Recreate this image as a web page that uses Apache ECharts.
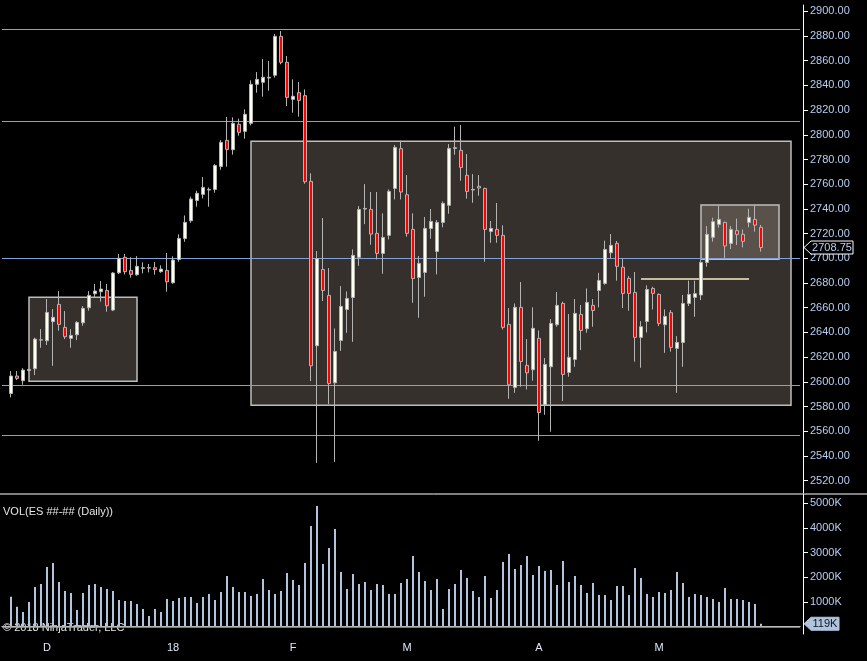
<!DOCTYPE html>
<html>
<head>
<meta charset="utf-8">
<title>ES Daily</title>
<script src="https://cdn.jsdelivr.net/npm/echarts@6/dist/echarts.min.js"></script>
<style>
html,body{margin:0;padding:0;background:#000;}
#main{width:867px;height:661px;}
</style>
</head>
<body>
<div id="main"></div>
<script>
// daily bars, index 0 = first bar on the left
var opens = [2590.6,2604.7,2600.9,2609.2,2610.6,2633.8,2633.3,2648.7,2662.7,2644.1,
  2635.2,2638.1,2647.8,2660.0,2671.3,2673.0,2674.0,2658.1,2688.3,2700.8,
  2690.2,2686.7,2691.9,2692.1,2692.4,2689.2,2690.2,2680.2,2699.1,2716.1,
  2730.4,2746.9,2751.8,2755.3,2755.8,2774.4,2795.5,2787.9,2808.5,2802.8,
  2809.3,2840.9,2842.5,2846.0,2848.2,2879.7,2858.7,2828.7,2834.1,2831.7,
  2762.3,2629.2,2691.0,2670.0,2599.2,2633.5,2658.6,2668.3,2700.8,2739.9,
  2739.6,2720.2,2704.0,2718.6,2756.6,2788.8,2751.5,2723.4,2684.5,2688.6,
  2724.2,2705.6,2729.1,2742.9,2789.0,2787.4,2767.2,2755.3,2758.3,2756.6,
  2721.8,2723.4,2718.6,2646.5,2595.5,2660.3,2613.3,2609.8,2635.2,2581.4,
  2612.2,2646.2,2663.5,2607.6,2618.1,2654.6,2643.0,2661.9,2674.0,2679.7,
  2704.5,2712.1,2692.7,2683.8,2672.4,2636.0,2648.9,2675.6,2670.8,2646.2,
  2656.0,2627.1,2631.9,2663.5,2668.4,2670.3,2696.7,2717.0,2727.5,2729.1,
  2712.1,2722.4,2719.4,2729.1,2731.5,2725.1];
var closes = [2604.7,2602.8,2609.5,2610.0,2634.6,2634.0,2656.2,2652.2,2646.5,2636.5,
  2637.6,2648.1,2659.5,2670.0,2673.5,2675.1,2661.6,2688.1,2700.0,2689.2,
  2687.0,2693.5,2692.4,2692.4,2690.8,2691.3,2681.0,2698.6,2716.1,2729.1,
  2748.0,2752.6,2757.4,2755.8,2775.2,2793.9,2788.2,2809.3,2802.0,2816.6,
  2840.9,2844.9,2846.6,2846.6,2879.7,2858.7,2830.3,2831.2,2827.9,2762.0,
  2613.0,2699.7,2674.0,2598.7,2624.6,2661.1,2667.5,2702.4,2739.6,2740.4,
  2719.6,2704.0,2716.9,2754.2,2789.8,2753.7,2720.2,2683.7,2695.9,2724.2,
  2729.9,2729.1,2744.5,2789.0,2789.6,2773.6,2754.2,2755.8,2756.9,2723.4,
  2724.2,2718.6,2644.1,2597.6,2660.3,2616.5,2607.3,2643.3,2575.2,2614.1,
  2647.3,2661.9,2606.0,2619.8,2655.4,2641.6,2664.3,2657.8,2682.1,2707.2,
  2710.5,2693.5,2671.6,2671.6,2636.0,2644.6,2674.8,2671.6,2647.3,2653.0,
  2627.9,2631.9,2663.5,2670.8,2671.4,2696.7,2719.4,2729.7,2731.5,2710.0,
  2723.4,2719.4,2713.7,2733.2,2726.9,2708.75];
var lows = [2587.4,2601.4,2597.6,2608.7,2605.5,2627.6,2629.8,2613.0,2641.4,2634.6,
  2627.6,2633.8,2645.4,2657.6,2668.4,2664.9,2656.8,2657.3,2687.3,2687.0,
  2684.3,2685.9,2687.8,2688.6,2686.7,2688.3,2673.0,2679.4,2697.2,2713.4,
  2728.8,2741.8,2748.5,2741.8,2753.1,2771.7,2774.2,2783.9,2799.3,2796.9,
  2807.6,2834.1,2830.9,2835.7,2846.3,2857.1,2823.3,2817.9,2814.7,2760.4,
  2600.6,2534.4,2665.4,2582.0,2535.2,2625.1,2639.7,2632.4,2694.0,2727.7,
  2711.0,2699.1,2687.5,2715.3,2747.7,2747.7,2717.5,2664.0,2651.9,2668.9,
  2715.9,2687.0,2725.1,2736.1,2783.9,2762.8,2748.3,2745.0,2750.7,2697.2,
  2712.6,2712.6,2642.4,2586.3,2591.1,2596.0,2593.8,2600.9,2552.3,2573.3,
  2559.6,2644.6,2584.4,2604.1,2612.2,2625.7,2639.7,2644.6,2660.3,2678.6,
  2700.0,2681.9,2659.7,2657.6,2616.3,2611.4,2640.0,2658.6,2645.1,2623.5,
  2624.4,2591.1,2612.2,2661.4,2652.7,2666.2,2693.2,2713.5,2724.8,2700.0,
  2707.5,2710.8,2708.9,2725.1,2721.6,2705.4];
var highs = [2608.7,2608.7,2611.1,2610.6,2635.7,2642.7,2667.0,2658.9,2673.5,2657.3,
  2642.7,2649.2,2661.3,2673.5,2679.2,2681.6,2679.2,2688.9,2703.5,2703.5,
  2700.8,2701.8,2696.7,2695.4,2697.0,2694.3,2704.3,2701.6,2719.4,2734.7,
  2749.9,2754.7,2765.8,2757.4,2776.3,2795.8,2814.4,2814.1,2813.0,2820.6,
  2844.1,2850.8,2861.4,2859.8,2881.6,2884.0,2863.8,2844.9,2842.7,2836.8,
  2768.8,2705.9,2732.6,2692.1,2643.2,2677.5,2673.2,2707.2,2742.3,2760.1,
  2753.7,2753.7,2736.4,2755.8,2791.7,2795.2,2767.4,2736.4,2701.8,2733.4,
  2739.9,2731.0,2746.1,2792.5,2806.6,2808.0,2784.4,2768.2,2767.4,2757.2,
  2730.2,2744.8,2726.7,2659.7,2663.5,2680.8,2634.6,2660.3,2641.6,2619.2,
  2650.8,2672.7,2664.9,2654.9,2667.0,2662.2,2675.6,2667.0,2688.3,2714.3,
  2719.7,2714.0,2699.7,2685.6,2688.9,2649.2,2678.1,2677.0,2671.6,2658.6,
  2658.1,2637.0,2670.3,2681.9,2681.9,2698.6,2726.1,2732.9,2742.6,2729.7,
  2726.1,2732.1,2723.4,2740.2,2742.6,2727.0];
// volume in thousands of contracts
var volumes = [1216,810,595,1000,1608,1730,2419,2581,1811,1447,
  1366,677,1366,1690,1730,1608,1528,1447,1082,1041,
  1041,920,717,434,717,595,1122,1041,1163,1203,
  1203,960,1203,1325,1082,1406,2054,1608,1406,1406,
  1244,1325,1933,1487,1325,1447,2176,1892,1690,2581,
  4080,4891,2541,3189,3959,2216,1528,2135,1730,1811,
  1487,1730,1690,1325,1325,1771,1933,2865,2216,1852,
  1487,1933,717,1528,1730,2297,1973,1447,1203,2054,
  1163,1487,2622,2946,2338,2500,2865,2095,2460,2257,
  2297,1690,2662,1811,2054,1690,1366,1771,1284,1284,
  1082,1649,1649,1284,2379,1973,1325,1203,1406,1366,
  1487,2216,1771,1203,1325,1284,1203,1122,1000,1568,
  1122,1122,1082,1000,920,119];

// month labels on the time axis (bar index -> label)
var monthTicks = [[6,'D'],[27,'18'],[47,'F'],[66,'M'],[88,'A'],[108,'M']];
var priceTicks = [2520,2540,2560,2580,2600,2620,2640,2660,2680,2700,
  2720,2740,2760,2780,2800,2820,2840,2860,2880,2900];
var volTicks = [1000,2000,3000,4000,5000];

// drawn objects: horizontal levels, boxes [fromBar, toBar, low, high], pivot line
var levelLines = [2885.4, 2811.2, 2700, 2597.3, 2556.9];
var boxes = [[3,21,2600.4,2668.4],[40,130,2581.0,2794.7]];
var innerBox = [115,128,2699.2,2743.2];
var pivotLine = [105,123,2683.8];

var tickMap = {};
monthTicks.forEach(function (t) { tickMap[t[0]] = t[1]; });

// one empty slot before the first bar, some room after the last
var cats = [];
for (var i = -1; i < 132; i++) cats.push(String(i));

var candleData = [], volData = [];
cats.forEach(function (c) {
  var k = Number(c);
  if (k >= 0 && k < opens.length) {
    candleData.push([opens[k], closes[k], lows[k], highs[k]]);
    volData.push(volumes[k]);
  } else {
    candleData.push('-');
    volData.push('-');
  }
});

var last = opens.length - 1;
var font = 'Liberation Sans, Arial, sans-serif';
var axisText = '#b6cff2';
var lineBlue = '#7fa2dc';

var areaData = boxes.map(function (b) {
  return [{ coord: [String(b[0]), b[3]] }, { coord: [String(b[1]), b[2]] }];
});
areaData.push([
  { coord: [String(innerBox[0]), innerBox[3]], itemStyle: { color: '#5a524a' } },
  { coord: [String(innerBox[1]), innerBox[2]] }
]);

var lineData = levelLines.map(function (v) {
  return { yAxis: v, lineStyle: { color: lineBlue, width: 1, type: 'solid' }, label: { show: false } };
});
lineData.push([
  { coord: [String(pivotLine[0]), pivotLine[2]], lineStyle: { color: '#f3edc6', width: 1.5, type: 'solid' }, label: { show: false } },
  { coord: [String(pivotLine[1]), pivotLine[2]] }
]);

function monthInterval(idx, val) { return tickMap.hasOwnProperty(val); }

var baseGraphic = [
  { type: 'line', silent: true, shape: { x1: 0, y1: 494, x2: 867, y2: 494 }, style: { stroke: '#fff', lineWidth: 1 } },
  { type: 'text', left: 3, top: 506, silent: true, style: { text: 'VOL(ES ##-## (Daily))', fill: '#e6e6e6', font: '11px ' + font } },
  { type: 'text', left: 3, top: 622, silent: true, style: { text: '\u00a9 2018 NinjaTrader, LLC', fill: '#e6e6e6', font: '11px ' + font } }
];

var chart = echarts.init(document.getElementById('main'));
var option = {
  backgroundColor: '#000',
  animation: false,
  textStyle: { fontFamily: font },
  grid: [
    { left: 2, right: 67, top: 5, height: 488 },
    { left: 2, right: 67, top: 494.5, height: 139.5 }
  ],
  xAxis: [
    { type: 'category', gridIndex: 0, data: cats, boundaryGap: true, show: false },
    {
      type: 'category', gridIndex: 1, data: cats, boundaryGap: true,
      axisLine: { lineStyle: { color: '#fff', width: 1 } },
      axisTick: { alignWithLabel: true, interval: monthInterval, length: 6, lineStyle: { color: '#fff' } },
      axisLabel: {
        interval: monthInterval, margin: 8, color: '#dde8f8', fontSize: 11, fontFamily: font,
        formatter: function (v) { return tickMap[v] || ''; }
      },
      splitLine: { show: false }
    }
  ],
  yAxis: [
    {
      type: 'value', gridIndex: 0, position: 'right', offset: 3,
      min: 2510.0, max: 2905.1, scale: true,
      axisLine: { show: true, lineStyle: { color: '#fff', width: 1 } },
      axisTick: { show: true, length: 5, customValues: priceTicks, lineStyle: { color: '#fff' } },
      axisLabel: {
        customValues: priceTicks, margin: 7, color: axisText, fontSize: 11, fontFamily: font,
        formatter: function (v) { return v.toFixed(2); }
      },
      splitLine: { show: false }
    },
    {
      type: 'value', gridIndex: 1, position: 'right', offset: 3,
      min: -296, max: 5357,
      axisLine: { show: true, lineStyle: { color: '#fff', width: 1 } },
      axisTick: { show: true, length: 5, customValues: volTicks, lineStyle: { color: '#fff' } },
      axisLabel: {
        customValues: volTicks, margin: 7, color: axisText, fontSize: 11, fontFamily: font,
        formatter: function (v) { return v + 'K'; }
      },
      splitLine: { show: false }
    }
  ],
  series: [
    {
      name: 'ES',
      type: 'candlestick',
      xAxisIndex: 0, yAxisIndex: 0,
      data: candleData,
      barWidth: 4,
      itemStyle: {
        color: '#fffff0', color0: '#ff0000',
        borderColor: '#b4b4b4', borderColor0: '#b4b4b4', borderWidth: 1
      },
      markArea: {
        silent: true,
        itemStyle: { color: '#35302b', borderColor: '#bdbdbd', borderWidth: 1.5 },
        data: areaData
      },
      markLine: {
        silent: true, z: 1.5,
        symbol: ['none', 'none'],
        data: lineData
      }
    },
    {
      name: 'VOL',
      type: 'bar',
      xAxisIndex: 1, yAxisIndex: 1,
      data: volData,
      barWidth: 2,
      itemStyle: { color: '#b0c4de' },
      markLine: {
        silent: true, symbol: ['none', 'none'],
        data: [
          { yAxis: 0, lineStyle: { color: '#a3a3a3', width: 1.5, type: 'solid' }, label: { show: false } }
        ]
      }
    }
  ],
  graphic: baseGraphic
};
chart.setOption(option);

// last price / last volume tags on the right axes
var axisX = chart.convertToPixel({ gridIndex: 0 }, ['0', 2700])[0];
axisX = chart.getWidth() - 67 + 3;
var py = chart.convertToPixel({ yAxisIndex: 0 }, closes[last]);
var vy = chart.convertToPixel({ yAxisIndex: 1 }, volumes[last]);

function tag(y, w, fill, stroke, text, textColor) {
  var x0 = axisX + 1, x1 = axisX + 8, x2 = x1 + w, h = 6.5;
  return [
    {
      type: 'polygon', silent: true, z: 10,
      shape: { points: [[x0, y], [x1, y - h], [x2, y - h], [x2, y + h], [x1, y + h]] },
      style: { fill: fill, stroke: stroke, lineWidth: 1 }
    },
    {
      type: 'text', silent: true, z: 11, x: x1 + w / 2, y: y,
      style: { text: text, fill: textColor, font: '11px ' + font, align: 'center', verticalAlign: 'middle' }
    }
  ];
}

var tags = [].concat(
  tag(py, 42, '#000', '#fff', closes[last].toFixed(2), axisText),
  tag(vy, 28, '#b0c4de', '#b0c4de', volumes[last] + 'K', '#10141c')
);
chart.setOption({ graphic: baseGraphic.concat(tags) });
</script>
</body>
</html>
